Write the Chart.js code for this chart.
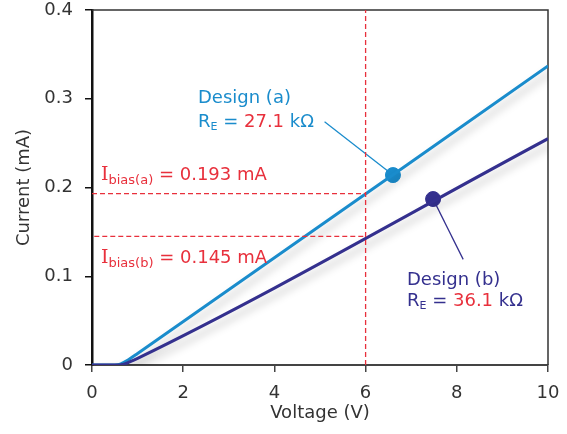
<!DOCTYPE html>
<html lang="en">
<head>
    <meta charset="UTF-8">
    <title>Current vs Voltage</title>
    <script src="https://cdn.jsdelivr.net/npm/chart.js"></script>
    <style>
        html, body { margin: 0; padding: 0; background: #fff; }
        .wrap { width: 567px; height: 434px; position: relative; }
    </style>
</head>
<body>
    <div class="wrap"><canvas id="ivChart"></canvas></div>
    <script>
        // curve points (voltage in V, current in mA)
        const voltsA = [0, 0.5, 0.6, 0.7, 0.8, 1.0, 10];
        const currentA = [0, 0, 0.0005, 0.003, 0.006, 0.013, 0.337];
        const voltsB = [0, 0.6, 0.7, 0.8, 1.0, 10];
        const currentB = [0, 0, 0.001, 0.003, 0.0075, 0.255];

        // marked design points
        const markA = [6.6, 0.214];
        const markB = [7.48, 0.187];

        // bias point guides
        const biasVolt = 6;
        const biasA = 0.193;
        const biasB = 0.145;

        const xTicks = [0, 2, 4, 6, 8, 10];
        const yTicks = [0, 0.1, 0.2, 0.3, 0.4];

        const blueA = '#1a8ccc';
        const blueB = '#34308e';
        const red = '#e8303c';
        const font = '"DejaVu Sans", Verdana, sans-serif';
        const serif = '"DejaVu Serif", "Liberation Serif", serif';

        const pts = (xs, ys) => xs.map((x, i) => ({ x: x, y: ys[i] }));

        // soft shadow under the two curves
        const shadowPlugin = {
            id: 'shadow',
            beforeDatasetDraw(chart, args) {
                const ds = chart.data.datasets[args.index];
                if (ds.shadow) {
                    chart.ctx.save();
                    chart.ctx.shadowColor = 'rgba(0,0,0,0.25)';
                    chart.ctx.shadowBlur = 9;
                    chart.ctx.shadowOffsetX = 3;
                    chart.ctx.shadowOffsetY = 6;
                }
            },
            afterDatasetDraw(chart, args) {
                if (chart.data.datasets[args.index].shadow) chart.ctx.restore();
            }
        };

        // frame + text labels
        const labelPlugin = {
            id: 'labels',
            beforeDatasetsDraw(chart) {
                const { ctx, chartArea: a } = chart;
                ctx.save();
                ctx.strokeStyle = '#333';
                ctx.lineWidth = 1.5;
                ctx.beginPath();
                ctx.moveTo(a.left, a.top);
                ctx.lineTo(a.right, a.top);
                ctx.lineTo(a.right, a.bottom);
                ctx.stroke();
                ctx.restore();
            },
            afterDraw(chart) {
                const ctx = chart.ctx;

                function runs(x, y, parts) {
                    let cx = x;
                    parts.forEach(p => {
                        ctx.font = (p.size || 18) + 'px ' + (p.family || font);
                        ctx.fillStyle = p.color;
                        ctx.fillText(p.t, cx, y + (p.dy || 0));
                        cx += ctx.measureText(p.t).width;
                    });
                }
                ctx.save();
                ctx.textBaseline = 'middle';
                ctx.textAlign = 'left';

                runs(198, 98, [{ t: 'Design (a)', color: blueA }]);
                runs(198, 122, [
                    { t: 'R', color: blueA },
                    { t: 'E', color: blueA, size: 11, dy: 5 },
                    { t: ' = ', color: blueA },
                    { t: '27.1', color: red },
                    { t: ' k\u03A9', color: blueA }
                ]);

                runs(407, 280, [{ t: 'Design (b)', color: blueB }]);
                runs(407, 301, [
                    { t: 'R', color: blueB },
                    { t: 'E', color: blueB, size: 11, dy: 5 },
                    { t: ' = ', color: blueB },
                    { t: '36.1', color: red },
                    { t: ' k\u03A9', color: blueB }
                ]);

                runs(101, 175, [
                    { t: 'I', color: red, size: 19, family: serif },
                    { t: 'bias(a)', color: red, size: 13, dy: 6 },
                    { t: ' = 0.193 mA', color: red }
                ]);
                runs(101, 258, [
                    { t: 'I', color: red, size: 19, family: serif },
                    { t: 'bias(b)', color: red, size: 13, dy: 6 },
                    { t: ' = 0.145 mA', color: red }
                ]);
                ctx.restore();
            }
        };

        const dashed = { showLine: true, borderColor: red, borderWidth: 1.3, borderDash: [5, 3], pointRadius: 0 };

        new Chart(document.getElementById('ivChart'), {
            type: 'scatter',
            data: {
                datasets: [
                    Object.assign({ data: [{ x: biasVolt, y: 0 }, { x: biasVolt, y: 0.4 }] }, dashed),
                    Object.assign({ data: [{ x: 0, y: biasA }, { x: biasVolt, y: biasA }] }, dashed),
                    Object.assign({ data: [{ x: 0.05, y: biasB }, { x: biasVolt, y: biasB }] }, dashed),
                    {
                        data: pts(voltsB, currentB), showLine: true, shadow: true,
                        borderColor: blueB, borderWidth: 3, pointRadius: 0,
                        cubicInterpolationMode: 'monotone'
                    },
                    {
                        data: pts(voltsA, currentA), showLine: true, shadow: true,
                        borderColor: blueA, borderWidth: 3, pointRadius: 0,
                        cubicInterpolationMode: 'monotone'
                    },
                    {
                        // leader line to design (a)
                        data: [{ x: 5.1, y: 0.274 }, { x: markA[0], y: markA[1] }],
                        showLine: true, borderColor: blueA, borderWidth: 1.3, pointRadius: 0
                    },
                    {
                        // leader line to design (b)
                        data: [{ x: markB[0], y: markB[1] }, { x: 8.14, y: 0.119 }],
                        showLine: true, borderColor: blueB, borderWidth: 1.3, pointRadius: 0
                    },
                    {
                        data: [{ x: markA[0], y: markA[1] }],
                        pointRadius: 7.5, backgroundColor: blueA, borderColor: blueA
                    },
                    {
                        data: [{ x: markB[0], y: markB[1] }],
                        pointRadius: 7.5, backgroundColor: blueB, borderColor: blueB
                    }
                ]
            },
            options: {
                responsive: true,
                maintainAspectRatio: false,
                animation: false,
                events: [],
                layout: { padding: { top: 10, right: 19, left: 0, bottom: 0 } },
                plugins: { legend: { display: false }, tooltip: { enabled: false } },
                scales: {
                    x: {
                        type: 'linear', min: 0, max: 10,
                        afterBuildTicks: s => { s.ticks = xTicks.map(v => ({ value: v })); },
                        afterFit: s => { s.height = 69; s.paddingLeft = 0; s.paddingRight = 0; },
                        grid: { drawOnChartArea: false, drawTicks: true, tickLength: 7, tickColor: '#444', lineWidth: 1.5 },
                        border: { color: '#444', width: 2 },
                        ticks: { color: '#333', font: { family: font, size: 18 }, padding: 11 },
                        title: { display: true, text: 'Voltage (V)', color: '#333', font: { family: font, size: 18 }, padding: { top: 0, bottom: 10 } }
                    },
                    y: {
                        type: 'linear', min: 0, max: 0.4,
                        afterBuildTicks: s => { s.ticks = yTicks.map(v => ({ value: v })); },
                        afterFit: s => { s.width = 92; s.paddingTop = 0; s.paddingBottom = 0; },
                        grid: { drawOnChartArea: false, drawTicks: true, tickLength: 7, tickColor: '#111', lineWidth: 1.5 },
                        border: { color: '#111', width: 2.5 },
                        ticks: { color: '#333', font: { family: font, size: 18 }, padding: 12 },
                        title: { display: true, text: 'Current (mA)', color: '#333', font: { family: font, size: 18 }, padding: { top: 14, bottom: 0 } }
                    }
                }
            },
            plugins: [shadowPlugin, labelPlugin]
        });
    </script>
</body>
</html>
